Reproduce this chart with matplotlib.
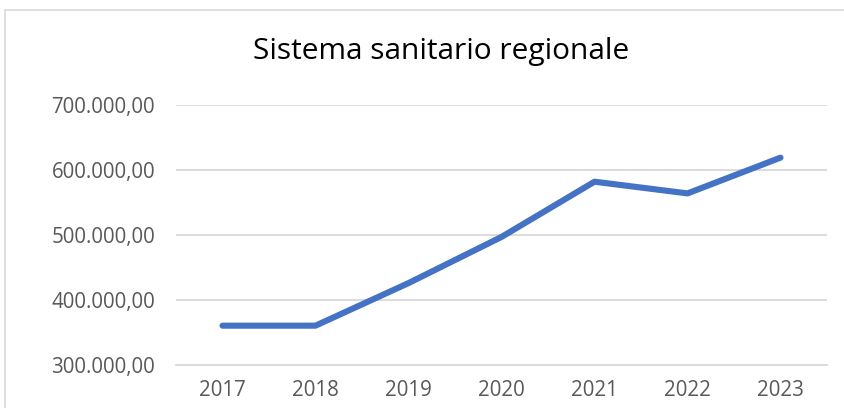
import matplotlib
matplotlib.use("Agg")
import matplotlib.pyplot as plt
from matplotlib.patches import Rectangle

years = ["2017", "2018", "2019", "2020", "2021", "2022", "2023"]
values = [360500, 360500, 426000, 497000, 582000, 564000, 619000]
yticks = [300000, 400000, 500000, 600000, 700000]
title = "Sistema sanitario regionale"

def fmt(v):
    s = f"{v:,.2f}"
    return s.replace(",", "X").replace(".", ",").replace("X", ".")

W, H = 845, 408
fig = plt.figure(figsize=(W/100, H/100), dpi=100)
fig.patch.set_facecolor("white")
fig.add_artist(Rectangle((5/W, -0.1), 1.2, (H-10)/H + 0.1, transform=fig.transFigure,
                         fill=False, edgecolor="#D9D9D9", linewidth=1.2))

ax = fig.add_axes([176/W, 1-365/H, (827-176)/W, (365-105)/H])
x = list(range(len(years)))
ax.plot(x, values, color="#4472C4", linewidth=4.4, solid_capstyle="round", solid_joinstyle="round", zorder=3)
ax.set_xlim(-0.5, len(years)-0.5)
ax.set_ylim(300000, 700000)
ax.set_yticks(yticks)
ax.set_yticklabels([fmt(v) for v in yticks])
ax.set_xticks(x)
ax.set_xticklabels(years)
ax.grid(axis="y", color="#D9D9D9", linewidth=1.3)
ax.set_axisbelow(True)
for s in ["top", "right", "left"]:
    ax.spines[s].set_visible(False)
ax.spines["bottom"].set_color("#D9D9D9")
ax.spines["bottom"].set_linewidth(1.3)
ax.tick_params(axis="both", length=0, labelcolor="#595959", labelsize=14.8)
for lab in ax.get_xticklabels() + ax.get_yticklabels():
    lab.set_fontfamily("Open Sans")
ax.tick_params(axis="y", pad=15)
ax.tick_params(axis="x", pad=11)

fig.text(441/W, 1-52/H, title, ha="center", va="center", fontsize=21.5, color="black", fontfamily="Open Sans")

fig.savefig("out.png", dpi=100)
